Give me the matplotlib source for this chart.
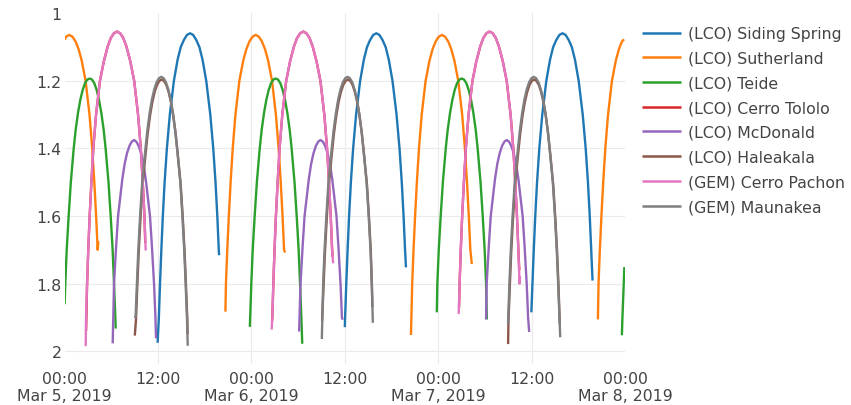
import numpy as np
import matplotlib
matplotlib.use("Agg")
import matplotlib.pyplot as plt

# ---------------- data (time axis: hours after 2019-03-05 00:00) ----------------
sites = ["(LCO) Siding Spring", "(LCO) Sutherland", "(LCO) Teide", "(LCO) Cerro Tololo",
         "(LCO) McDonald", "(LCO) Haleakala", "(GEM) Cerro Pachon", "(GEM) Maunakea"]
colors = ["#1f77b4", "#ff7f0e", "#2ca02c", "#d62728",
          "#9467bd", "#8c564b", "#e377c2", "#7f7f7f"]

# arc shape of each site: hours from transit -> airmass
siding_h = [0, 0.4, 0.8, 1.2, 1.6, 2.08, 2.6, 2.98, 3.27, 3.5, 3.69, 3.86, 4.01, 4.15]
siding_am = [1.059, 1.064, 1.079, 1.1, 1.137, 1.2, 1.3, 1.4, 1.5, 1.6, 1.7, 1.8, 1.9, 2.0]
suth_h = [0, 0.4, 0.8, 1.2, 1.6, 2.1, 2.6, 2.95, 3.22, 3.45, 3.65, 3.82, 3.98, 4.12]
suth_am = [1.064, 1.069, 1.083, 1.106, 1.14, 1.2, 1.3, 1.4, 1.5, 1.6, 1.7, 1.8, 1.9, 2.0]
teide_h = [0, 0.3, 0.6, 0.9, 1.2, 1.5, 1.8, 2.05, 2.42, 2.7, 2.95, 3.13, 3.3, 3.43]
teide_am = [1.193, 1.196, 1.207, 1.227, 1.256, 1.295, 1.345, 1.4, 1.5, 1.6, 1.7, 1.8, 1.9, 2.0]
pachon_h = [0, 0.4, 0.8, 1.2, 1.7, 2.2, 2.7, 3.05, 3.3, 3.52, 3.7, 3.85, 3.98, 4.1]
pachon_am = [1.054, 1.059, 1.073, 1.098, 1.142, 1.2, 1.3, 1.4, 1.5, 1.6, 1.7, 1.8, 1.9, 2.0]
tololo_h = pachon_h
tololo_am = pachon_am
mcd_h = [0, 0.3, 0.6, 0.9, 1.2, 1.5, 1.8, 2.05, 2.3, 2.57, 2.75, 2.9]
mcd_am = [1.375, 1.38, 1.393, 1.414, 1.445, 1.49, 1.55, 1.6, 1.69, 1.8, 1.9, 2.0]
mk_h = [0, 0.3, 0.6, 0.9, 1.2, 1.5, 1.8, 2.1, 2.45, 2.72, 2.95, 3.13, 3.3, 3.45]
mk_am = [1.188, 1.192, 1.204, 1.225, 1.255, 1.296, 1.349, 1.416, 1.5, 1.6, 1.7, 1.8, 1.9, 2.0]
hal_h = mk_h
hal_am = [1.196, 1.2, 1.212, 1.233, 1.263, 1.304, 1.357, 1.424, 1.508, 1.608, 1.708, 1.808, 1.908, 2.008]

# transit times and the start / end of every plotted arc
siding_transit = [16.12, 40.05, 63.97]
siding_t0 = [11.95, 36.0, 59.97]; siding_a0 = [1.975, 1.929, 1.885]
siding_t1 = [19.85, 43.86, 67.83]; siding_a1 = [1.716, 1.752, 1.791]

suth_transit = [0.6, 24.55, 48.48, 72.42]
suth_t0 = [0.0, 20.66, 44.5, 68.52]; suth_a0 = [1.078, 1.883, 1.952, 1.906]
suth_t1 = [4.33, 28.33, 52.32, 71.88]; suth_a1 = [1.675, 1.708, 1.742, 1.077]

teide_transit = [3.22, 27.12, 51.02, 74.97]
teide_t0 = [0.0, 23.8, 47.82, 71.6]; teide_a0 = [1.861, 1.928, 1.885, 1.953]
teide_t1 = [6.57, 30.53, 54.25, 71.92]; teide_a1 = [1.933, 1.978, 1.906, 1.751]

tololo_transit = [6.74, 30.67, 54.6]
tololo_t0 = [2.76, 26.65, 50.68]; tololo_a0 = [1.94, 1.91, 1.87]
tololo_t1 = [10.36, 34.44, 58.42]; tololo_a1 = [1.68, 1.72, 1.76]

mcd_transit = [8.92, 32.88, 56.8]
mcd_t0 = [6.18, 30.13, 54.15]; mcd_a0 = [1.977, 1.942, 1.906]
mcd_t1 = [11.75, 35.72, 59.69]; mcd_a1 = [1.962, 1.907, 1.943]

hal_transit = [12.47, 36.4, 60.33]
hal_t0 = [9.02, 33.08, 56.98]; hal_a0 = [1.954, 1.91, 1.979]
hal_t1 = [15.8, 39.55, 63.62]; hal_a1 = [1.95, 1.87, 1.92]

pachon_transit = [6.74, 30.67, 54.6]
pachon_t0 = [2.71, 26.6, 50.63]; pachon_a0 = [1.985, 1.936, 1.89]
pachon_t1 = [10.42, 34.5, 58.5]; pachon_a1 = [1.702, 1.74, 1.778]

mk_transit = [12.42, 36.35, 60.28]
mk_t0 = [9.05, 33.05, 56.97]; mk_a0 = [1.896, 1.964, 1.921]
mk_t1 = [15.82, 39.6, 63.68]; mk_a1 = [1.984, 1.916, 1.959]

x_ticks_h = [0, 12, 24, 36, 48, 60, 72]
x_tick_labels = ["00:00\nMar 5, 2019", "12:00", "00:00\nMar 6, 2019", "12:00",
                 "00:00\nMar 7, 2019", "12:00", "00:00\nMar 8, 2019"]
y_ticks = [1.0, 1.2, 1.4, 1.6, 1.8, 2.0]
y_tick_labels = ["1", "1.2", "1.4", "1.6", "1.8", "2"]

series = [
    (siding_h, siding_am, siding_transit, siding_t0, siding_a0, siding_t1, siding_a1),
    (suth_h, suth_am, suth_transit, suth_t0, suth_a0, suth_t1, suth_a1),
    (teide_h, teide_am, teide_transit, teide_t0, teide_a0, teide_t1, teide_a1),
    (tololo_h, tololo_am, tololo_transit, tololo_t0, tololo_a0, tololo_t1, tololo_a1),
    (mcd_h, mcd_am, mcd_transit, mcd_t0, mcd_a0, mcd_t1, mcd_a1),
    (hal_h, hal_am, hal_transit, hal_t0, hal_a0, hal_t1, hal_a1),
    (pachon_h, pachon_am, pachon_transit, pachon_t0, pachon_a0, pachon_t1, pachon_a1),
    (mk_h, mk_am, mk_transit, mk_t0, mk_a0, mk_t1, mk_a1),
]

# ---------------- plotting ----------------
base = np.datetime64("2019-03-05T00:00:00")


def to_time(hours):
    return base + (np.asarray(hours, dtype=float) * 3600).round().astype("timedelta64[s]")


def arc(h, am, transit, t0, a0, t1, a1):
    h = np.asarray(h, float)
    am = np.asarray(am, float)
    hh = np.concatenate([-h[::-1], h[1:]])
    aa = np.concatenate([am[::-1], am[1:]])
    t = transit + hh
    m = (t > t0 + 0.03) & (t < t1 - 0.03)
    return np.r_[t0, t[m], t1], np.r_[a0, aa[m], a1]


TXT = "#444444"
FS = 11.3
plt.rcParams["font.family"] = ["DejaVu Sans"]
fig = plt.figure(figsize=(8.51, 4.06), dpi=100)
ax = fig.add_axes([64.6 / 851, 1 - 365 / 406, (625 - 64.6) / 851, (365 - 14) / 406])

handles = []
for (h, am, tr, t0s, a0s, t1s, a1s), name, col in zip(series, sites, colors):
    first = None
    for k in range(len(tr)):
        t, a = arc(h, am, tr[k], t0s[k], a0s[k], t1s[k], a1s[k])
        ln, = ax.plot(to_time(t), a, color=col, lw=1.7, solid_joinstyle="round",
                      solid_capstyle="butt", label=name if k == 0 else None)
        if first is None:
            first = ln
    handles.append(first)

ax.set_xlim(to_time(0), to_time(72))
ax.set_ylim(2.038, 0.999)
ax.set_xticks(to_time(x_ticks_h))
ax.set_xticklabels(x_tick_labels, linespacing=1.15)
ax.set_yticks(y_ticks)
ax.set_yticklabels(y_tick_labels)
ax.tick_params(axis="both", length=0, labelsize=FS, colors=TXT)
ax.tick_params(axis="x", pad=5)
ax.tick_params(axis="y", pad=2)
for s in ax.spines.values():
    s.set_visible(False)
ax.grid(True, color="#ebebeb", lw=0.8)
ax.set_axisbelow(True)
xt = ax.xaxis.get_major_ticks()
xt[0].gridline.set_visible(False)
xt[-1].gridline.set_visible(False)
ax.yaxis.get_major_ticks()[0].gridline.set_visible(False)

leg = fig.legend(handles, sites, loc="upper left",
                 bbox_to_anchor=(642 / 851, 1 - 27 / 406), frameon=False,
                 borderpad=0, borderaxespad=0, handlelength=2.5, handletextpad=0.45,
                 labelspacing=0.62, fontsize=FS)
for t in leg.get_texts():
    t.set_color(TXT)
for l in leg.get_lines():
    l.set_linewidth(1.8)

fig.savefig("out.png", dpi=100)
